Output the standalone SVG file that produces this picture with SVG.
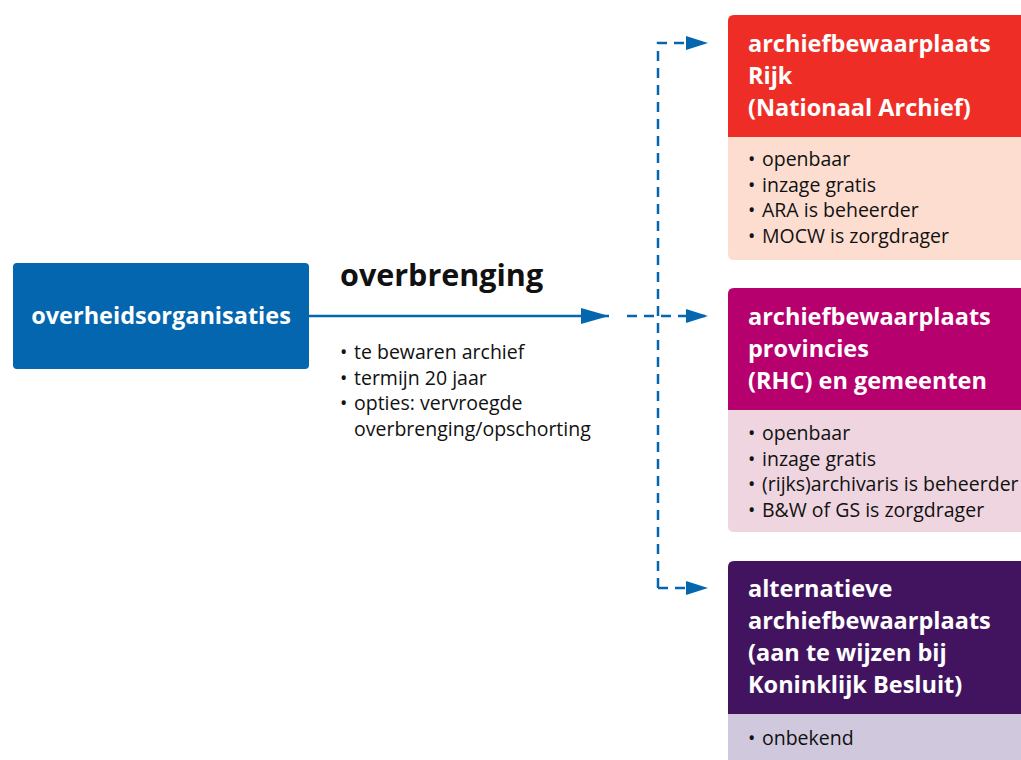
<svg xmlns="http://www.w3.org/2000/svg" width="1021" height="760" viewBox="0 0 1021 760">
<style>
text{font-family:"Open Sans","Noto Sans","Liberation Sans",sans-serif}
.h{font-size:23.5px;font-weight:bold;fill:#fff}
.b{font-size:19.5px;fill:#111}
.dash{fill:none;stroke:#0466AE;stroke-width:2.5;stroke-dasharray:10 7}
</style>
<defs>
<marker id="ah" markerWidth="30" markerHeight="16" refX="28" refY="8" orient="auto" markerUnits="userSpaceOnUse">
<path d="M0,0 L28,8 L0,16 Z" fill="#0466AE"/>
</marker>
<marker id="ah2" markerWidth="24" markerHeight="14" refX="22" refY="7" orient="auto" markerUnits="userSpaceOnUse">
<path d="M0,0 L22,7 L0,14 Z" fill="#0466AE"/>
</marker>
</defs>
<rect width="1021" height="760" fill="#fff"/>
<g id="connectors">
<line x1="309" y1="316" x2="609" y2="316" stroke="#0466AE" stroke-width="2.5" marker-end="url(#ah)"/>
<path class="dash" d="M627,316 H708" marker-end="url(#ah2)"/>
<path class="dash" d="M658,588 V43 H708" marker-end="url(#ah2)"/>
<path class="dash" d="M658,588 H708" marker-end="url(#ah2)"/>
<text x="340" y="286" style="font-size:30.5px;font-weight:bold;fill:#111">overbrenging</text>
<text class="b"><tspan x="340" y="359">•</tspan><tspan x="340" y="385">•</tspan><tspan x="340" y="410">•</tspan></text>
<text class="b"><tspan x="354" y="359">te bewaren archief</tspan><tspan x="354" y="385">termijn 20 jaar</tspan><tspan x="354" y="410">opties: vervroegde</tspan><tspan x="354" y="436">overbrenging/opschorting</tspan></text>
</g>
<g id="overheidsorganisaties">
<rect x="13" y="263" width="296" height="106" rx="4" fill="#0466AE"/>
<text x="161" y="324" class="h" text-anchor="middle">overheidsorganisaties</text>
</g>
<g id="rijk">
<path d="M734,15 H1021 V260 H734 Q728,260 728,254 V21 Q728,15 734,15 Z" fill="#FDDDD0"/>
<path d="M734,15 H1021 V137 H728 V21 Q728,15 734,15 Z" fill="#EE2E26"/>
<text class="h"><tspan x="748" y="52">archiefbewaarplaats</tspan><tspan x="748" y="84">Rijk</tspan><tspan x="748" y="116">(Nationaal Archief)</tspan></text>
<text class="b"><tspan x="748" y="166">•</tspan><tspan x="748" y="192">•</tspan><tspan x="748" y="217">•</tspan><tspan x="748" y="243">•</tspan></text>
<text class="b"><tspan x="762" y="166">openbaar</tspan><tspan x="762" y="192">inzage gratis</tspan><tspan x="762" y="217">ARA is beheerder</tspan><tspan x="762" y="243">MOCW is zorgdrager</tspan></text>
</g>
<g id="provincies">
<path d="M734,288 H1021 V532 H734 Q728,532 728,526 V294 Q728,288 734,288 Z" fill="#EFD5DF"/>
<path d="M734,288 H1021 V410 H728 V294 Q728,288 734,288 Z" fill="#B5006E"/>
<text class="h"><tspan x="748" y="325">archiefbewaarplaats</tspan><tspan x="748" y="357">provincies</tspan><tspan x="748" y="389">(RHC) en gemeenten</tspan></text>
<text class="b"><tspan x="748" y="440">•</tspan><tspan x="748" y="466">•</tspan><tspan x="748" y="491">•</tspan><tspan x="748" y="517">•</tspan></text>
<text class="b"><tspan x="762" y="440">openbaar</tspan><tspan x="762" y="466">inzage gratis</tspan><tspan x="762" y="491">(rijks)archivaris is beheerder</tspan><tspan x="762" y="517">B&amp;W of GS is zorgdrager</tspan></text>
</g>
<g id="alternatief">
<rect x="728" y="714" width="293" height="46" fill="#D0C8DC"/>
<path d="M734,561 H1021 V714 H728 V567 Q728,561 734,561 Z" fill="#42145F"/>
<text class="h"><tspan x="748" y="597">alternatieve</tspan><tspan x="748" y="629">archiefbewaarplaats</tspan><tspan x="748" y="661">(aan te wijzen bij</tspan><tspan x="748" y="693">Koninklijk Besluit)</tspan></text>
<text class="b"><tspan x="748" y="745">•</tspan></text>
<text class="b"><tspan x="762" y="745">onbekend</tspan></text>
</g>
</svg>
